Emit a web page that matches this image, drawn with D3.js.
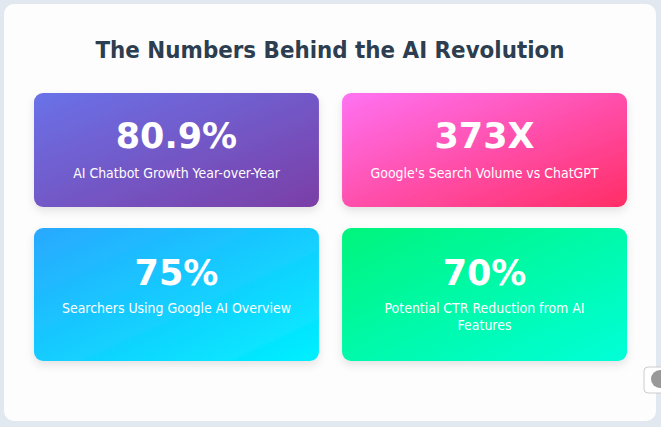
<!DOCTYPE html>
<html><head><meta charset="utf-8">
<script src="https://cdn.jsdelivr.net/npm/d3@7"></script>
<style>body{margin:0;background:#e2e8f0;}svg{display:block;}</style>
</head><body>
<svg id="c" width="661" height="427"></svg>
<script>
const values = ["80.9%", "373X", "75%", "70%"];
const labels = [["AI Chatbot Growth Year-over-Year"], ["Google's Search Volume vs ChatGPT"], ["Searchers Using Google AI Overview"], ["Potential CTR Reduction from AI", "Features"]];
const gradStart = ["#6a72e8", "#ff72f2", "#2aa8ff", "#00f47c"];
const gradEnd = ["#7b3ea6", "#ff2d66", "#00f0ff", "#00ffd8"];
const title = "The Numbers Behind the AI Revolution";

const svg = d3.select("#c");
const font = "'DejaVu Sans',sans-serif";
const defs = svg.append("defs");
const f = defs.append("filter").attr("id","sh").attr("x","-20%").attr("y","-20%").attr("width","140%").attr("height","150%");
f.append("feDropShadow").attr("dx",0).attr("dy",4).attr("stdDeviation",4).attr("flood-color","#000").attr("flood-opacity",0.1);
values.forEach((v,i)=>{
  const g = defs.append("linearGradient").attr("id","g"+i).attr("x1","0").attr("y1","0").attr("x2","1").attr("y2","1");
  g.append("stop").attr("offset","0").attr("stop-color",gradStart[i]);
  g.append("stop").attr("offset","1").attr("stop-color",gradEnd[i]);
});
svg.append("rect").attr("x",4).attr("y",4).attr("width",652).attr("height",417).attr("rx",10).attr("fill","#fdfdfe");
svg.append("text").attr("x",330).attr("y",58).attr("text-anchor","middle").attr("font-family",font)
  .attr("font-weight","bold").attr("font-size",23.5).attr("fill","#2c3e50")
  .attr("textLength",469).attr("lengthAdjust","spacingAndGlyphs").text(title);

const col = d3.scaleBand().domain([0,1]).range([34,627]).paddingInner(0.075);
const rowY = [93, 228], rowH = [114, 133];
const cards = svg.selectAll("g.card").data(values.map((v,i)=>({v,l:labels[i],i})))
  .join("g").attr("class","card")
  .attr("transform",d=>`translate(${col(d.i%2)},${rowY[Math.floor(d.i/2)]})`);
cards.append("rect").attr("width",col.bandwidth()).attr("height",d=>rowH[Math.floor(d.i/2)]).attr("rx",9)
  .attr("fill",d=>`url(#g${d.i})`).attr("filter","url(#sh)");
cards.append("text").attr("x",col.bandwidth()/2).attr("y",d=>d.i<2?55:57)
  .attr("text-anchor","middle").attr("font-family",font).attr("font-weight","bold").attr("font-size",35)
  .attr("fill","#fff").text(d=>d.v);
cards.each(function(d){
  d3.select(this).selectAll("text.lb").data(d.l).join("text").attr("class","lb")
    .attr("x",col.bandwidth()/2).attr("y",(t,j)=>85+j*17).attr("text-anchor","middle")
    .attr("font-family",font).attr("font-size",13.5).attr("fill","#fff")
    .attr("transform",`translate(${col.bandwidth()/2},0) scale(0.93,1) translate(${-col.bandwidth()/2},0)`)
    .text(t=>t);
});
svg.append("rect").attr("x",644).attr("y",367).attr("width",24).attr("height",26).attr("rx",4).attr("fill","#fff").attr("stroke","#ccc");
svg.append("circle").attr("cx",660).attr("cy",379).attr("r",9).attr("fill","#999");
</script>
</body></html>
